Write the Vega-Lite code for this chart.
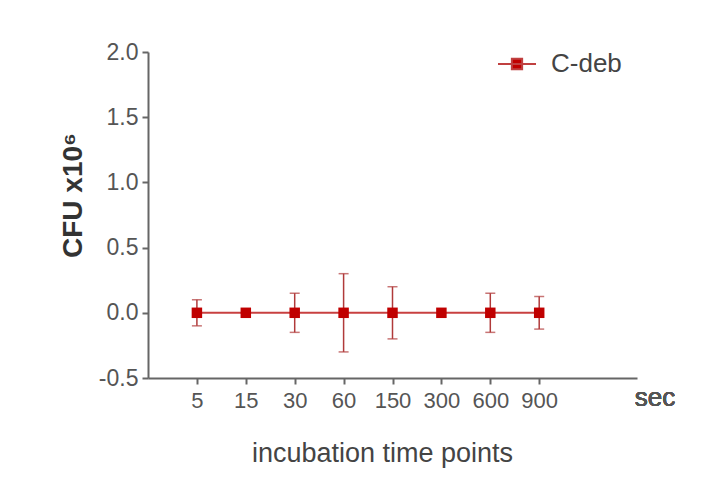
{
  "$schema": "https://vega.github.io/schema/vega-lite/v6.json",
  "autosize": "none",
  "width": 489,
  "height": 326,
  "padding": {"left": 148, "top": 52, "right": 70, "bottom": 106},
  "background": "white",
  "config": {
    "view": {"stroke": null},
    "axis": {"grid": false}
  },
  "data": {
    "values": [
      {"time": "5", "mean": 0, "err": 0.1, "series": "C-deb"},
      {"time": "15", "mean": 0, "err": 0, "series": "C-deb"},
      {"time": "30", "mean": 0, "err": 0.15, "series": "C-deb"},
      {"time": "60", "mean": 0, "err": 0.3, "series": "C-deb"},
      {"time": "150", "mean": 0, "err": 0.2, "series": "C-deb"},
      {"time": "300", "mean": 0, "err": 0, "series": "C-deb"},
      {"time": "600", "mean": 0, "err": 0.15, "series": "C-deb"},
      {"time": "900", "mean": 0, "err": 0.125, "series": "C-deb"}
    ]
  },
  "encoding": {
    "x": {
      "field": "time",
      "type": "ordinal",
      "scale": {"type": "point", "padding": 0, "domain": ["_a", "5", "15", "30", "60", "150", "300", "600", "900", "_b", "_c"]},
      "axis": {
        "values": ["5", "15", "30", "60", "150", "300", "600", "900"],
        "labelAngle": 0,
        "labelFont": "Liberation Sans, Arial",
        "labelFontSize": 22,
        "labelColor": "#555555",
        "labelPadding": 6,
        "domainColor": "#666666",
        "domainWidth": 2,
        "tickColor": "#666666",
        "tickWidth": 2,
        "tickSize": 6,
        "title": "incubation time points",
        "titleFont": "Liberation Sans, Arial",
        "titleFontSize": 27,
        "titleFontWeight": "normal",
        "titleColor": "#444444",
        "titleX": 234,
        "titleY": 83,
        "titleAlign": "center",
        "titleBaseline": "alphabetic"
      }
    },
    "y": {
      "field": "mean",
      "type": "quantitative",
      "scale": {"domain": [-0.5, 2], "nice": false, "zero": false},
      "axis": {
        "values": [-0.5, 0, 0.5, 1, 1.5, 2],
        "labelExpr": "replace(format(datum.value, '.1f'), '\u2212', '-')",
        "labelFont": "Liberation Sans, Arial",
        "labelFontSize": 23,
        "labelColor": "#555555",
        "labelPadding": 4,
        "domainColor": "#666666",
        "domainWidth": 2,
        "tickColor": "#666666",
        "tickWidth": 2,
        "tickSize": 6,
        "title": "CFU x10\u2076",
        "titleFont": "Liberation Sans, Arial",
        "titleFontSize": 28,
        "titleFontWeight": "bold",
        "titleColor": "#333333",
        "titleAngle": -90,
        "titleX": -75,
        "titleY": 143,
        "titleAlign": "center",
        "titleBaseline": "middle"
      }
    }
  },
  "layer": [
    {
      "mark": {"type": "errorbar", "ticks": {"size": 10, "color": "#b03a3a", "strokeWidth": 2}, "color": "#b03a3a", "thickness": 1.5},
      "encoding": {
        "yError": {"field": "err"}
      }
    },
    {
      "mark": {"type": "line", "color": "#c84040", "strokeWidth": 2}
    },
    {
      "mark": {"type": "point", "shape": "square", "filled": true, "size": 110, "opacity": 1},
      "encoding": {
        "color": {
          "field": "series",
          "type": "nominal",
          "scale": {"range": ["#c00000"]},
          "legend": {
            "title": null,
            "orient": "none",
            "legendX": 349,
            "legendY": -8,
            "symbolType": "M-1,0H1M-0.27,-0.27H0.27V0.27H-0.27Z",
            "symbolSize": 1444,
            "symbolStrokeWidth": 2,
            "symbolStrokeColor": "#c04040",
            "symbolFillColor": "#c00000",
            "symbolOpacity": 1,
            "labelFont": "Liberation Sans, Arial",
            "labelFontSize": 26,
            "labelColor": "#444444",
            "labelOffset": 14
          }
        }
      }
    },
    {
      "mark": {"type": "text", "dx": 18, "dy": 28, "fontSize": 26, "font": "Liberation Sans, Arial", "color": "#555555", "align": "center", "baseline": "alphabetic"},
      "encoding": {
        "x": {"datum": "_c"},
        "y": {"datum": -0.5},
        "text": {"value": "sec"}
      }
    }
  ]
}
